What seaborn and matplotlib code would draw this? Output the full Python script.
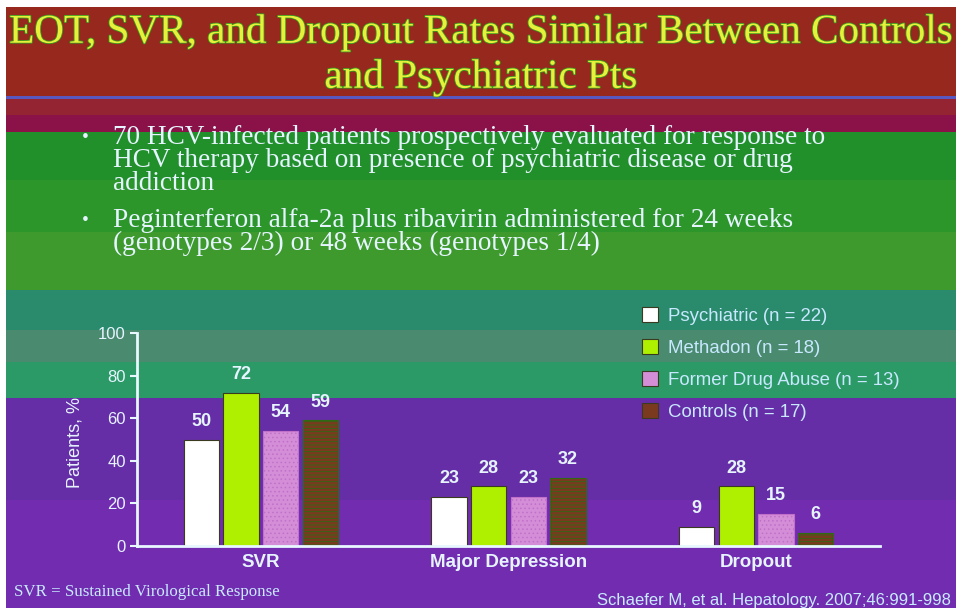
import pandas as pd
import matplotlib
matplotlib.use("Agg")
import matplotlib.pyplot as plt
import matplotlib.patheffects as pe
import seaborn as sb

outcomes = ["SVR", "Major Depression", "Dropout"]
groups = ["Psychiatric (n = 22)", "Methadon (n = 18)",
          "Former Drug Abuse (n = 13)", "Controls (n = 17)"]
psychiatric = [50, 23, 9]
methadon = [72, 28, 28]
former_drug = [54, 23, 15]
controls = [59, 32, 6]

title_lines = ["EOT, SVR, and Dropout Rates Similar Between Controls",
               "and Psychiatric Pts"]
bullets = [
    ["70 HCV-infected patients prospectively evaluated for response to",
     "HCV therapy based on presence of psychiatric disease or drug",
     "addiction"],
    ["Peginterferon alfa-2a plus ribavirin administered for 24 weeks",
     "(genotypes 2/3) or 48 weeks (genotypes 1/4)"],
]

rows = []
for g, vals in zip(groups, [psychiatric, methadon, former_drug, controls]):
    for o, v in zip(outcomes, vals):
        rows.append({"outcome": o, "group": g, "pct": v})
df = pd.DataFrame(rows)

palette = ["#ffffff", "#aef000", "#d48ed8", "#7a3a20"]
txt = "#e6f4ff"
sans = ["Liberation Sans", "DejaVu Sans"]
serif = ["Liberation Serif", "DejaVu Serif"]

sb.set_style("white")
plt.rcParams["font.family"] = sans
plt.rcParams["hatch.linewidth"] = 0.6

W, H = 956, 608
fig = plt.figure(figsize=(W / 100, H / 100), dpi=100)
fig.patch.set_facecolor("white")

# achtergrond van de slide (banden)
bg = fig.add_axes([6 / W, 0, (W - 6) / W, (H - 7) / H])
bg.set_xlim(0, 1)
bg.set_ylim(H, 7)
bg.axis("off")
bands = [(7, 96, "#97281e"), (96, 99, "#5858c0"), (99, 115, "#952432"),
         (115, 132, "#8a1248"), (132, 180, "#21902a"), (180, 232, "#2c962a"),
         (232, 290, "#3e9a2c"), (290, 330, "#2a8a6c"), (330, 362, "#4a8a6e"),
         (362, 398, "#2c9a66"), (398, 500, "#662ea6"), (500, H, "#722cb0")]
for y0, y1, c in bands:
    bg.axhspan(y0, y1, color=c, lw=0)

# titel
for i, line in enumerate(title_lines):
    fig.text(0.5 + 3 / W, 1 - (33 + i * 45) / H, line, ha="center", va="center",
             family=serif, fontsize=29.6, color="#e8f03a",
             path_effects=[pe.withStroke(linewidth=1.2, foreground="#3a9a20")])

# bullets
y = 137
for b in bullets:
    fig.text(85 / W, 1 - y / H, "\u2022", ha="center", va="center",
             family=serif, fontsize=14, color=txt)
    for line in b:
        fig.text(113 / W, 1 - y / H, line, ha="left", va="center",
                 family=serif, fontsize=19.6, color=txt)
        y += 23.5
    y += 12.5

ax = fig.add_axes([137 / W, 62 / H, 743 / W, 213 / H])
ax.patch.set_alpha(0)
sb.barplot(data=df, x="outcome", y="pct", hue="group", order=outcomes,
           hue_order=groups, palette=palette, width=0.64, gap=0.11,
           edgecolor="#3a3a20", linewidth=0.8, saturation=1, ax=ax)

for cont, gname in zip(ax.containers, groups):
    for bar in cont:
        if gname.startswith("Controls"):
            bar.set_hatch("-----")
            bar.set_edgecolor("#2e6a14")
        elif gname.startswith("Former"):
            bar.set_hatch("....")
            bar.set_edgecolor("#c070c8")
    ax.bar_label(cont, padding=7, fontsize=13, fontweight="bold", color=txt)

ax.set_xlim(-0.5, 2.5)
ax.set_ylim(0, 100)
ax.set_yticks([0, 20, 40, 60, 80, 100])
ax.set_xlabel("")
ax.set_ylabel("")
ax.set_xticks([0.5, 1.5, 2.5], minor=True)
ax.tick_params(axis="x", which="major", length=0, pad=6, labelsize=13.5,
               labelcolor=txt)
for lab in ax.get_xticklabels():
    lab.set_fontweight("bold")
ax.tick_params(axis="x", which="minor", length=5, width=1.5, color="#e8f8ff",
               direction="out")
ax.tick_params(axis="y", length=5, width=1.5, color="#e8f8ff", direction="out",
               labelsize=12, labelcolor=txt, pad=3, left=True)
for s in ["top", "right"]:
    ax.spines[s].set_visible(False)
for s in ["left", "bottom"]:
    ax.spines[s].set_color("#e8f8ff")
    ax.spines[s].set_linewidth(2)

fig.text(75 / W, 1 - 442 / H, "Patients, %", rotation=90, ha="center",
         va="center", fontsize=13, color=txt)

leg = ax.legend(loc="upper left", bbox_to_anchor=(633 / W, 1 - 298 / H),
                bbox_transform=fig.transFigure, frameon=False, borderpad=0,
                handlelength=0.85, handleheight=0.85, handletextpad=0.55,
                labelspacing=0.75, fontsize=13.4, labelcolor="#c8e8ff")

fig.text(14 / W, 1 - 592 / H, "SVR = Sustained Virological Response",
         ha="left", va="center", family=serif, fontsize=12.2, color="#c8ecff")
fig.text(951 / W, 1 - 600 / H, "Schaefer M, et al. Hepatology. 2007;46:991-998",
         ha="right", va="center", fontsize=12, color="#c8ecff")

fig.savefig("out.png", dpi=100)
